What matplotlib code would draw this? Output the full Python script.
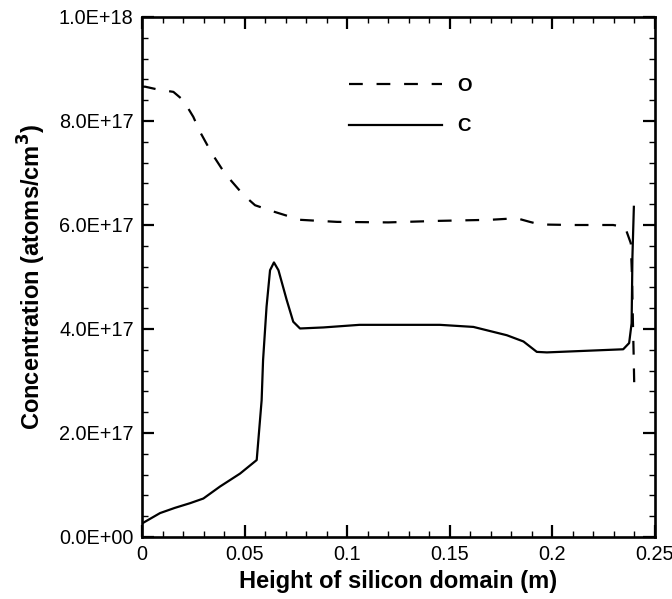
import matplotlib
matplotlib.use("Agg")
import matplotlib.pyplot as plt
from matplotlib.ticker import MultipleLocator, FixedLocator

plt.rcParams['font.family'] = ['Liberation Sans', 'DejaVu Sans']

# Oxygen concentration (dashed)
o_x = [0.0, 0.0015, 0.0072, 0.0153, 0.0201, 0.025, 0.0283, 0.034, 0.0404, 0.0494, 0.0551,
       0.064, 0.077, 0.095, 0.12, 0.1452, 0.1696, 0.1826, 0.189, 0.194, 0.2101, 0.2296,
       0.2354, 0.2382, 0.2388, 0.2392, 0.2396, 0.2399]
o_y = [8.66e17, 8.66e17, 8.61e17, 8.56e17, 8.40e17, 8.08e17, 7.79e17, 7.38e17, 6.99e17, 6.58e17, 6.38e17,
       6.26e17, 6.10e17, 6.06e17, 6.05e17, 6.08e17, 6.10e17, 6.13e17, 6.06e17, 6.01e17, 6.00e17, 6.00e17,
       5.96e17, 5.65e17, 5.0e17, 4.2e17, 3.5e17, 2.89e17]

# Carbon concentration (solid)
c_x = [0.0, 0.0088, 0.016, 0.0234, 0.0299, 0.038, 0.0478, 0.0559, 0.0583, 0.059, 0.0607, 0.0624,
       0.0643, 0.0665, 0.0705, 0.0737, 0.077, 0.0884, 0.106, 0.1452, 0.1615, 0.1778, 0.1859,
       0.1924, 0.1973, 0.2345, 0.2374, 0.2386, 0.239, 0.2397]
c_y = [2.6e16, 4.6e16, 5.6e16, 6.5e16, 7.4e16, 9.7e16, 1.22e17, 1.48e17, 2.63e17, 3.40e17, 4.43e17, 5.13e17,
       5.28e17, 5.13e17, 4.56e17, 4.14e17, 4.01e17, 4.03e17, 4.08e17, 4.08e17, 4.04e17, 3.88e17, 3.76e17,
       3.56e17, 3.55e17, 3.61e17, 3.73e17, 4.11e17, 5.39e17, 6.35e17]

x_ticks = [0, 0.05, 0.1, 0.15, 0.2, 0.25]
x_tick_labels = ["0", "0.05", "0.1", "0.15", "0.2", "0.25"]
y_ticks = [0, 2e17, 4e17, 6e17, 8e17, 1e18]
y_tick_labels = ["0.0E+00", "2.0E+17", "4.0E+17", "6.0E+17", "8.0E+17", "1.0E+18"]

fig = plt.figure(figsize=(6.72, 5.99), dpi=100)
ax = fig.add_axes([142/672, 1-537/599, (655-142)/672, (537-17)/599])

ax.plot(o_x, o_y, color='black', lw=1.6, linestyle=(0, (6.2, 6.2)), label='O')
ax.plot(c_x, c_y, color='black', lw=1.6, linestyle='-', label='C')

ax.set_xlim(0, 0.25)
ax.set_ylim(0, 1e18)
ax.xaxis.set_major_locator(FixedLocator(x_ticks))
ax.set_xticklabels(x_tick_labels)
ax.xaxis.set_minor_locator(MultipleLocator(0.01))
ax.yaxis.set_major_locator(FixedLocator(y_ticks))
ax.set_yticklabels(y_tick_labels)
ax.yaxis.set_minor_locator(MultipleLocator(4e16))

ax.tick_params(which='both', direction='in', top=True, right=True, labelsize=14.3, width=1.6)
ax.tick_params(which='major', length=8.5, pad=6)
ax.tick_params(which='minor', length=4.3, width=1.0)
for s in ax.spines.values():
    s.set_linewidth(1.9)

ax.set_xlabel('Height of silicon domain (m)', fontsize=17, fontweight='bold', labelpad=4)
ax.set_ylabel('Concentration (atoms/cm$^\\mathbf{3}$)', fontsize=17, fontweight='bold', labelpad=8)

leg = ax.legend(loc='upper left', bbox_to_anchor=(0.371, 0.916), frameon=False,
                handlelength=4.93, handletextpad=0.83, labelspacing=1.25,
                prop={'size': 13.5})
for t in leg.get_texts():
    t.set_fontweight('bold')

fig.savefig('out.png', dpi=100)
